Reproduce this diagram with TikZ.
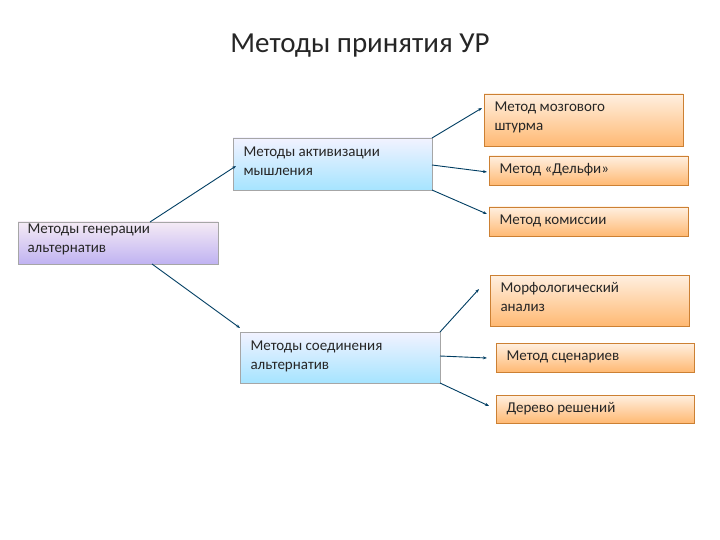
\documentclass[tikz,border=0pt]{standalone}
\usepackage{fontspec}
\setmainfont{Carlito}
\usetikzlibrary{arrows.meta}
\begin{document}
\begin{tikzpicture}[x=1pt,y=-1pt,
 box/.style={draw=#1!70!black!80, line width=0.6pt, inner sep=0pt},
 lbl/.style={anchor=north west, align=left, font=\fontsize{15}{19}\selectfont, text=black!85},
 conn/.style={draw=blue!40!black!60!cyan!60!black, line width=0.9pt, -{Stealth[length=4pt,width=3pt]}}]
\useasboundingbox (0,0) rectangle (720,540);
\node[font=\fontsize{29}{32}\selectfont, text=black!85] (title) at (360,46) {Методы принятия УР};
% boxes
\shade[top color=violet!8, bottom color=violet!35!blue!30] (18,222) rectangle (218,264);
\draw[draw=gray!70, line width=0.6pt] (18,222) rectangle (218,264);
\node[lbl] (gen) at (24,220) {Методы генерации\\альтернатив};
\shade[top color=blue!5, bottom color=blue!30!cyan!35] (233,138) rectangle (432,190);
\draw[draw=gray!70, line width=0.6pt] (233,138) rectangle (432,190);
\node[lbl] (act) at (240,143) {Методы активизации\\мышления};
\shade[top color=blue!5, bottom color=blue!30!cyan!35] (240,332) rectangle (440,383);
\draw[draw=gray!70, line width=0.6pt] (240,332) rectangle (440,383);
\node[lbl] (soed) at (247,337) {Методы соединения\\альтернатив};
\foreach \n/\a/\b/\c/\d/\t in {
 brain/484/94/683/146/{Метод мозгового\\штурма},
 delphi/489/156/688/185/{Метод «Дельфи»},
 kom/489/207/688/236/{Метод комиссии},
 morph/490/275/689/326/{Морфологический\\анализ},
 scen/496/343/694/372/{Метод сценариев},
 tree/496/395/694/423/{Дерево решений}}{
 \shade[top color=orange!12, bottom color=orange!55] (\a,\b) rectangle (\c,\d);
 \draw[draw=orange!60!gray, line width=0.6pt] (\a,\b) rectangle (\c,\d);
 \node[lbl] (\n) at (\a+7,\b+4) {\t};
}
\coordinate (g1) at (150,222); \coordinate (g2) at (152,264);
\coordinate (a0) at (236,166); \coordinate (s0) at (240,328);
\coordinate (a1) at (432,138); \coordinate (a2) at (432,165); \coordinate (a3) at (432,190);
\coordinate (b1) at (482,108); \coordinate (b2) at (487,172); \coordinate (b3) at (487,214);
\coordinate (c1) at (440,332); \coordinate (c2) at (440,356); \coordinate (c3) at (440,383);
\coordinate (d1) at (479,289); \coordinate (d2) at (487,358); \coordinate (d3) at (489,406);
\draw[conn] (g1) -- (a0);
\draw[conn] (g2) -- (s0);
\draw[conn] (a1) -- (b1);
\draw[conn] (a2) -- (b2);
\draw[conn] (a3) -- (b3);
\draw[conn] (c1) -- (d1);
\draw[conn] (c2) -- (d2);
\draw[conn] (c3) -- (d3);
\end{tikzpicture}
\end{document}
